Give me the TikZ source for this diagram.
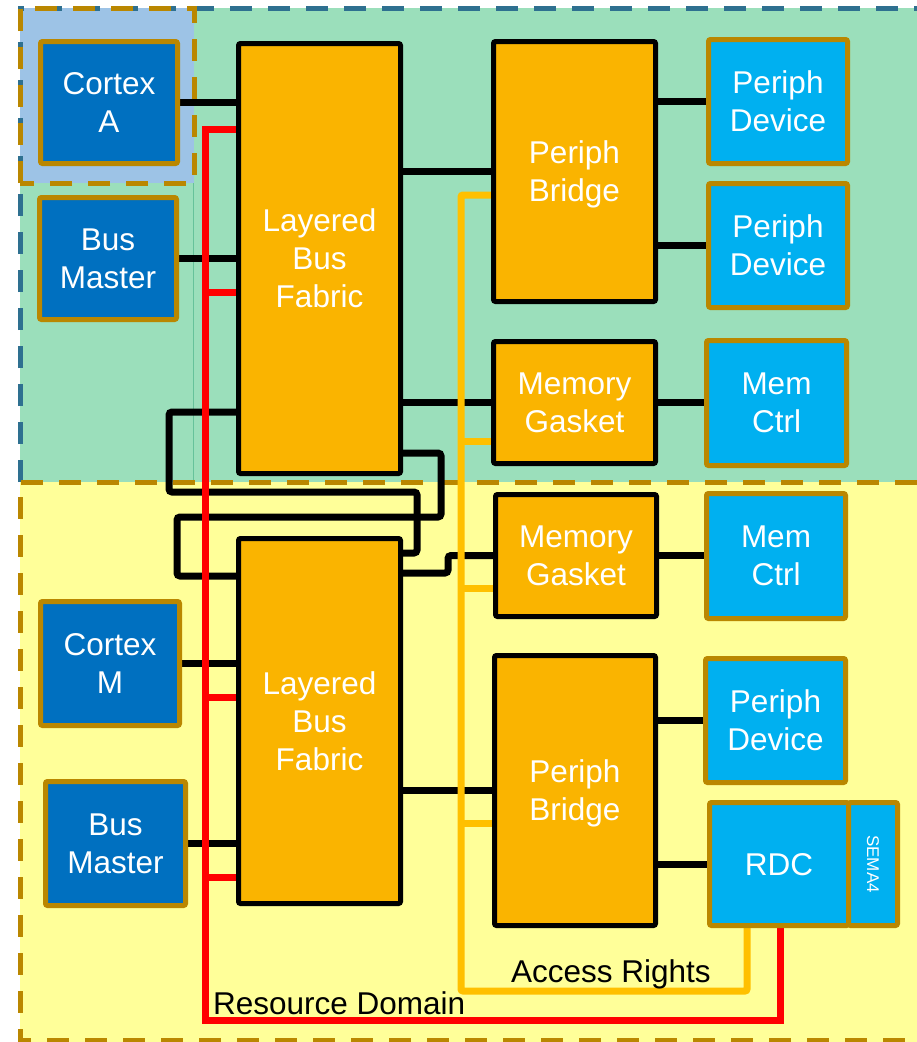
\documentclass[tikz,border=0pt]{standalone}
\usepackage{fontspec}
\setmainfont{Liberation Sans}
\definecolor{greenbg}{HTML}{9BDFBB}
\definecolor{ltbluebg}{HTML}{9DC3E6}
\definecolor{yellowbg}{HTML}{FFFF99}
\definecolor{tealc}{HTML}{2E7090}
\definecolor{goldc}{HTML}{BA8700}
\definecolor{dkblue}{HTML}{0070C0}
\definecolor{cyanb}{HTML}{00B0F0}
\definecolor{orangeb}{HTML}{FAB400}
\definecolor{ywire}{HTML}{FFC000}
\definecolor{thinline}{HTML}{66C29A}
\pgfdeclarelayer{back}
\pgfdeclarelayer{mid}
\pgfsetlayers{back,mid,main}
\tikzset{
  boxbase/.style={line width=5pt, rounded corners=2pt, inner sep=0pt, align=center, text=white,
    text depth=0pt, font=\fontsize{31.5}{38}\selectfont},
  cpu/.style={boxbase, fill=dkblue, draw=goldc},
  dev/.style={boxbase, fill=cyanb, draw=goldc},
  fab/.style={boxbase, fill=orangeb, draw=black},
  wire/.style={line width=7pt, draw=black, rounded corners=3pt},
  ywirestyle/.style={line width=7pt, draw=ywire, rounded corners=2pt},
  rwire/.style={line width=7pt, draw=red},
  dashgold/.style={line width=5pt, draw=goldc, dash pattern=on 22pt off 16pt},
  dashteal/.style={line width=5pt, draw=tealc, dash pattern=on 22pt off 16pt},
  lbl/.style={text=black, font=\fontsize{31.5}{38}\selectfont, inner sep=0pt}
}
\begin{document}
\begin{tikzpicture}[x=1pt,y=-1pt]
\useasboundingbox (0,0) rectangle (917,1042);

% nodes
\node[cpu, minimum width=137pt, minimum height=122pt] (cA) at (109,102.5) {Cortex\\A};
\node[cpu, minimum width=137pt, minimum height=122pt] (bm1) at (108,258.5) {Bus\\Master};
\node[fab, minimum width=162pt, minimum height=430pt] (lbf1) at (319.5,258.5) {Layered\\Bus\\Fabric};
\node[fab, minimum width=162pt, minimum height=260pt] (pb1) at (574.5,171.5) {Periph\\Bridge};
\node[dev, minimum width=139pt, minimum height=124pt] (pd1) at (778,101.5) {Periph\\Device};
\node[dev, minimum width=139pt, minimum height=124pt] (pd2) at (778,245.5) {Periph\\Device};
\node[fab, minimum width=162pt, minimum height=122pt] (mg1) at (574.5,402.5) {Memory\\Gasket};
\node[dev, minimum width=140pt, minimum height=125pt] (mc1) at (776.5,403) {Mem\\Ctrl};
\node[fab, minimum width=161pt, minimum height=122pt] (mg2) at (576,555.5) {Memory\\Gasket};
\node[dev, minimum width=139pt, minimum height=125pt] (mc2) at (776,556) {Mem\\Ctrl};
\node[fab, minimum width=162pt, minimum height=365pt] (lbf2) at (319.5,721) {Layered\\Bus\\Fabric};
\node[cpu, minimum width=139pt, minimum height=124pt] (cM) at (110,663.5) {Cortex\\M};
\node[cpu, minimum width=140pt, minimum height=124pt] (bm2) at (115.5,843.5) {Bus\\Master};
\node[fab, minimum width=161pt, minimum height=270pt] (pb2) at (575,790.5) {Periph\\Bridge};
\node[dev, minimum width=140pt, minimum height=124pt] (pd3) at (775.5,720.5) {Periph\\Device};
\node[dev, minimum width=139pt, minimum height=123pt] (rdc) at (779,864) {RDC};
\node[dev, minimum width=123pt, minimum height=49pt, font=\fontsize{17}{20}\selectfont, rotate=-90] (sema) at (873,864) {SEMA4};

% labels
\node[lbl, anchor=base] (ar) at (611,982) {Access Rights};
\node[lbl, anchor=base west] (rd) at (213,1014) {Resource Domain};

% backgrounds
\begin{pgfonlayer}{back}
\fill[greenbg] (20,8) rectangle (917,482);
\fill[ltbluebg] (20,8) rectangle (194,183);
\draw[thinline, line width=0.8pt] (193,183) -- (193,482);
\draw[dashteal] (20,482) -- (20,8) -- (917,8);
\draw[dashgold] (20,183) -- (20,8) -- (194,8) -- (194,183) -- cycle;
\fill[yellowbg] (20,482) rectangle (917,1042);
\draw[dashgold] (917,482) -- (20,482) -- (20,1040) -- (917,1040);
\end{pgfonlayer}

% wires
\begin{pgfonlayer}{mid}
% black connectors
\draw[wire] (cA.east) -- (cA.east -| lbf1.west);
\draw[wire] (bm1.east) -- (bm1.east -| lbf1.west);
\draw[wire] (pb1.west -| lbf1.east) -- (pb1.west);
\draw[wire] (pd1.west -| pb1.east) -- (pd1.west);
\draw[wire] (pd2.west -| pb1.east) -- (pd2.west);
\draw[wire] (mg1.west -| lbf1.east) -- (mg1.west);
\draw[wire] (mg1.east) -- (mg1.east -| mc1.west);
\draw[wire] (mg2.east) -- (mg2.east -| mc2.west);
\draw[wire] (cM.east) -- (cM.east -| lbf2.west);
\draw[wire] (bm2.east) -- (bm2.east -| lbf2.west);
\draw[wire] (pb2.west -| lbf2.east) -- (pb2.west);
\draw[wire] (pd3.west -| pb2.east) -- (pd3.west);
\draw[wire] (rdc.west -| pb2.east) -- (rdc.west);
% crossover connectors between the two fabrics
\draw[wire] (lbf1.west |- 0,412) -| (169,492) -| (417,553) -- (lbf2.east |- 0,553);
\draw[wire] (lbf1.east |- 0,453) -| (441,517) -| (177,576) -- (lbf2.west |- 0,576);
\draw[wire] (lbf2.east |- 0,573) -| (448,555.5) -- (mg2.west);
% access rights (yellow)
\draw[ywirestyle] (pb1.west |- 0,195) -- (461,195) -- (461,991) -- (747,991) -- (rdc.south -| 747,0);
\draw[ywirestyle] (461,441) -- (mg1.west |- 0,441);
\draw[ywirestyle] (461,588) -- (mg2.west |- 0,588);
\draw[ywirestyle] (461,823) -- (pb2.west |- 0,823);
% resource domain (red)
\draw[rwire] (lbf1.west |- 0,129) -- (205.5,129) -- (205.5,1020) -- (780,1020) -- (rdc.south -| 780,0);
\draw[rwire] (205.5,292) -- (lbf1.west |- 0,292);
\draw[rwire] (205.5,697) -- (lbf2.west |- 0,697);
\draw[rwire] (205.5,877) -- (lbf2.west |- 0,877);
\end{pgfonlayer}
\end{tikzpicture}
\end{document}
